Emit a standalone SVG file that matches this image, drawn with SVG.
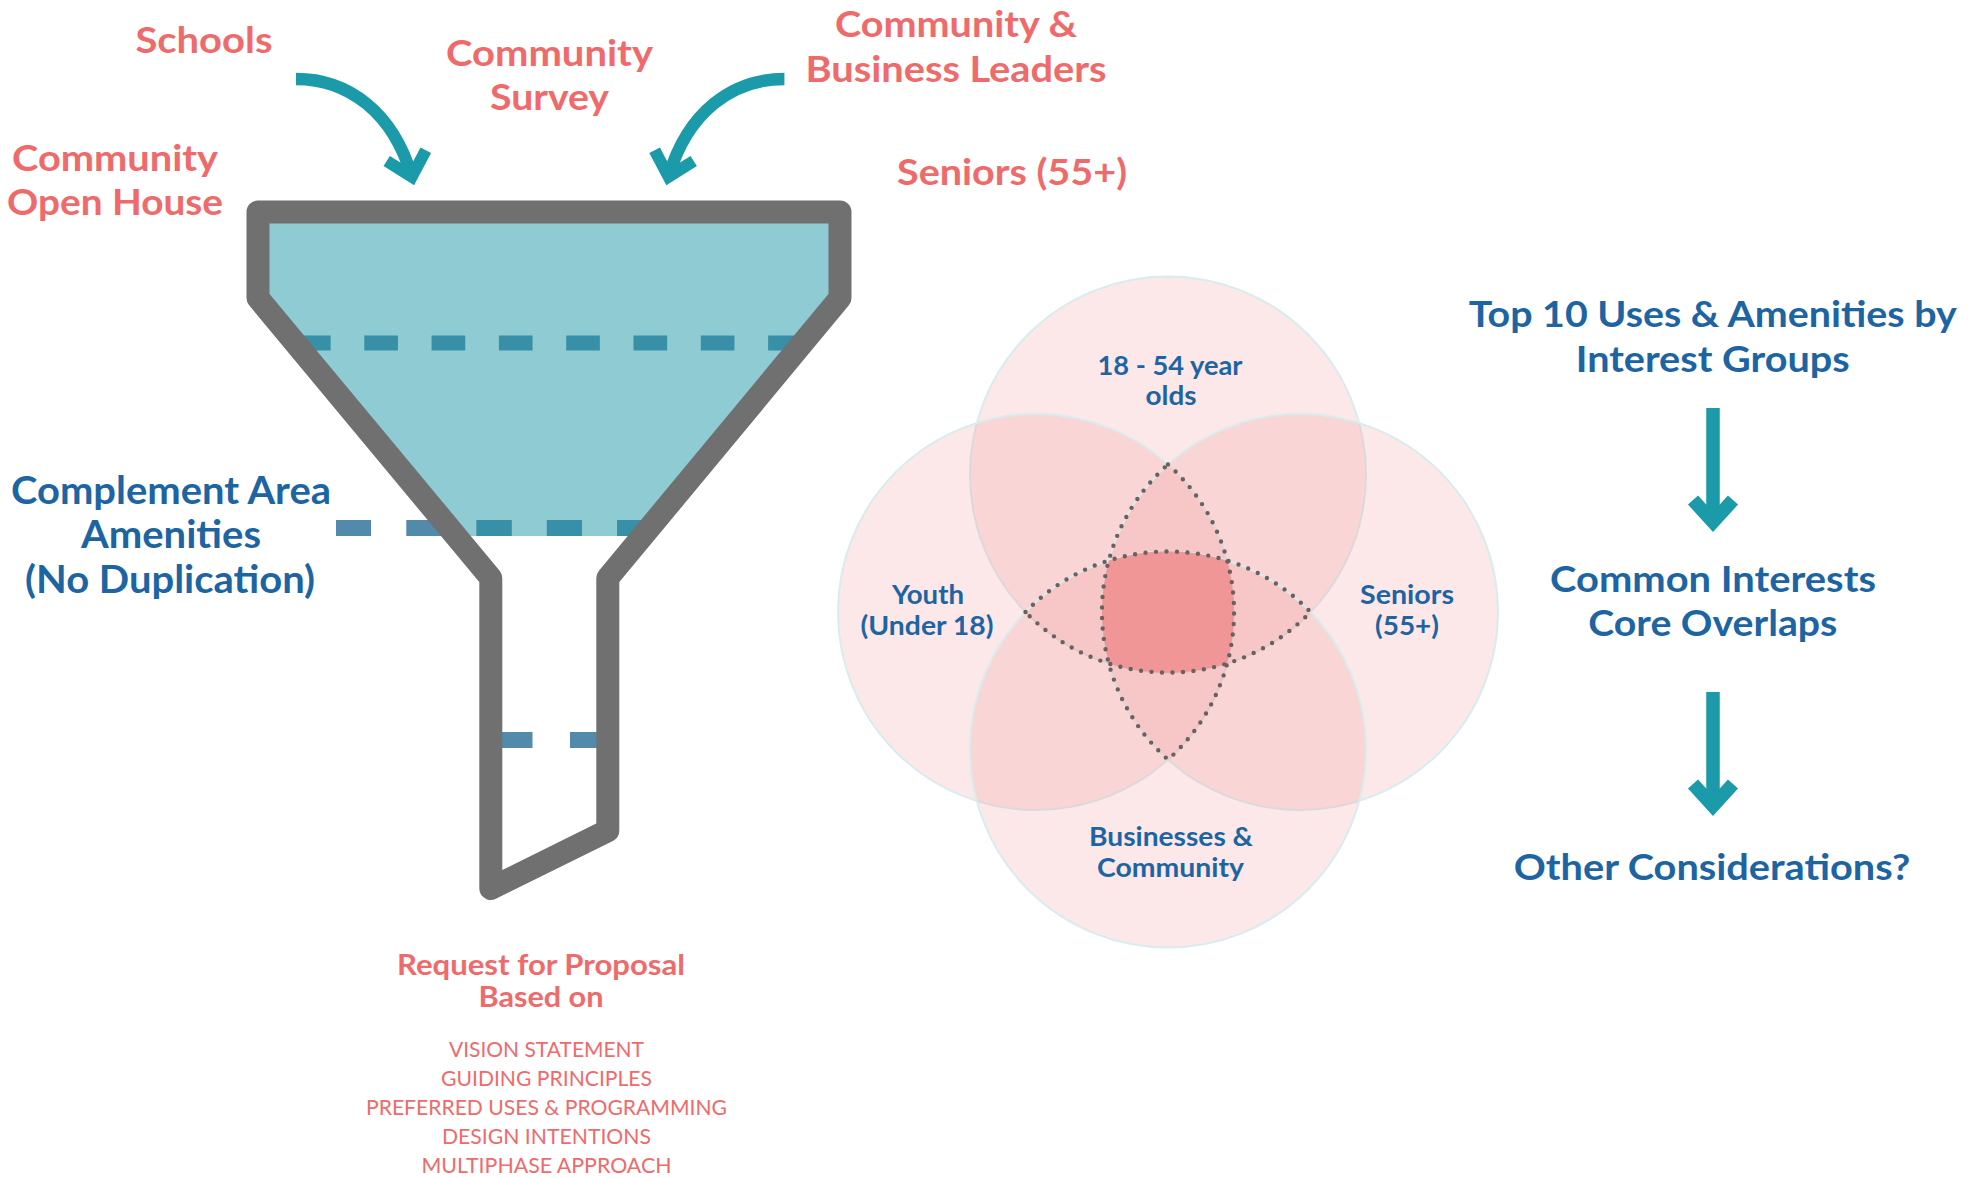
<svg xmlns="http://www.w3.org/2000/svg" width="1979" height="1178" viewBox="0 0 1979 1178">
<style>
text{font-family:Lato,"Liberation Sans",sans-serif;font-weight:700;text-anchor:middle}
.red{fill:#ee6a6b}
.blue{fill:#1d64a2}
.big{font-size:37px}
.bigb{font-size:39px}
.venn{font-size:27px}
.list{font-size:22px;font-weight:400}
.sub{font-size:29px}
.circ{fill:#ee8a8a;fill-opacity:0.2;stroke:#d8ecef;stroke-width:2}
.dots{fill:none;stroke:#6a6060;stroke-width:4.4;stroke-dasharray:0 10.5;stroke-linecap:round}
.arr{fill:none;stroke:#1b9aa9}
</style>
<defs>
<clipPath id="tealClip"><polygon points="258,212 840,212 840,298 641.7,536 456,536 258,298"/></clipPath>
</defs>
<rect width="1979" height="1178" fill="#ffffff"/>

<g id="funnel">
<polygon points="258,212 840,212 840,298 641.7,536 456,536 258,298" fill="#8fcbd3"/>
<line x1="297" y1="343" x2="802" y2="343" stroke="#3790a8" stroke-width="15" stroke-dasharray="33.65 33.65"/>
<line x1="336" y1="528" x2="660" y2="528" stroke="#528aab" stroke-width="16" stroke-dasharray="35 35.3"/>
<line x1="336" y1="528" x2="660" y2="528" stroke="#3790a8" stroke-width="16" stroke-dasharray="35 35.3" clip-path="url(#tealClip)"/>
<line x1="497" y1="740" x2="606" y2="740" stroke="#528aab" stroke-width="16" stroke-dasharray="35.5 37.5"/>
<path d="M258,212 L840,212 L840,298 L607.8,578 L607.8,830.6 L490.8,888.5 L490.8,578 L258,298 Z" fill="none" stroke="#707070" stroke-width="23" stroke-linejoin="round"/>
</g>

<g id="schools"><text class="big red" x="204" y="53" textLength="137" lengthAdjust="spacingAndGlyphs">Schools</text></g>
<g id="community-survey">
<text class="big red" x="549.5" y="66" textLength="207" lengthAdjust="spacingAndGlyphs">Community</text>
<text class="big red" x="549.5" y="110" textLength="119" lengthAdjust="spacingAndGlyphs">Survey</text>
</g>
<g id="community-open-house">
<text class="big red" x="115" y="171" textLength="206" lengthAdjust="spacingAndGlyphs">Community</text>
<text class="big red" x="115" y="215" textLength="216" lengthAdjust="spacingAndGlyphs">Open House</text>
</g>
<g id="community-business-leaders">
<text class="big red" x="956" y="37" textLength="242" lengthAdjust="spacingAndGlyphs">Community &amp;</text>
<text class="big red" x="956" y="82" textLength="301" lengthAdjust="spacingAndGlyphs">Business Leaders</text>
</g>
<g id="seniors-top"><text class="big red" x="1012" y="185" textLength="230" lengthAdjust="spacingAndGlyphs">Seniors (55+)</text></g>
<g id="complement">
<text class="bigb blue" x="171" y="504" textLength="320" lengthAdjust="spacingAndGlyphs">Complement Area</text>
<text class="bigb blue" x="171" y="548" textLength="180" lengthAdjust="spacingAndGlyphs">Amenities</text>
<text class="bigb blue" x="170" y="593" textLength="290" lengthAdjust="spacingAndGlyphs">(No Duplication)</text>
</g>
<g id="rfp">
<text class="sub red" x="541" y="975" textLength="288" lengthAdjust="spacingAndGlyphs">Request for Proposal</text>
<text class="sub red" x="541" y="1007" textLength="125" lengthAdjust="spacingAndGlyphs">Based on</text>
<text class="list red" x="546.5" y="1057" textLength="195" lengthAdjust="spacingAndGlyphs">VISION STATEMENT</text>
<text class="list red" x="546.5" y="1086" textLength="211" lengthAdjust="spacingAndGlyphs">GUIDING PRINCIPLES</text>
<text class="list red" x="546.5" y="1115" textLength="361" lengthAdjust="spacingAndGlyphs">PREFERRED USES &amp; PROGRAMMING</text>
<text class="list red" x="546.5" y="1144" textLength="209" lengthAdjust="spacingAndGlyphs">DESIGN INTENTIONS</text>
<text class="list red" x="546.5" y="1173" textLength="250" lengthAdjust="spacingAndGlyphs">MULTIPHASE APPROACH</text>
</g>

<g id="venn">
<circle class="circ" cx="1168" cy="474.5" r="198"/>
<circle class="circ" cx="1036" cy="612" r="198"/>
<circle class="circ" cx="1300" cy="612" r="198"/>
<circle class="circ" cx="1168" cy="749.5" r="198"/>
<path id="core" d="M1108.8,560.6 A198,198 0 0 1 1227.2,560.6 A198,198 0 0 1 1227.2,663.4 A198,198 0 0 1 1108.8,663.4 A198,198 0 0 1 1108.8,560.6 Z" fill="#f09696"/>
<path class="dots" d="M1168,464.4 A198,198 0 0 1 1168,759.6 A198,198 0 0 1 1168,464.4 Z"/>
<path class="dots" d="M1025.5,612 A198,198 0 0 1 1310.5,612 A198,198 0 0 1 1025.5,612 Z"/>
</g>
<g id="venn-adults">
<text class="venn blue" x="1170" y="375" textLength="145" lengthAdjust="spacingAndGlyphs">18 - 54 year</text>
<text class="venn blue" x="1171" y="405" textLength="51" lengthAdjust="spacingAndGlyphs">olds</text>
</g>
<g id="venn-youth">
<text class="venn blue" x="928" y="604" textLength="72" lengthAdjust="spacingAndGlyphs">Youth</text>
<text class="venn blue" x="927" y="635" textLength="133" lengthAdjust="spacingAndGlyphs">(Under 18)</text>
</g>
<g id="venn-seniors">
<text class="venn blue" x="1407" y="604" textLength="94" lengthAdjust="spacingAndGlyphs">Seniors</text>
<text class="venn blue" x="1407" y="635" textLength="64" lengthAdjust="spacingAndGlyphs">(55+)</text>
</g>
<g id="venn-business">
<text class="venn blue" x="1171" y="846" textLength="164" lengthAdjust="spacingAndGlyphs">Businesses &amp;</text>
<text class="venn blue" x="1170.5" y="877" textLength="147" lengthAdjust="spacingAndGlyphs">Community</text>
</g>

<g id="top10"><text class="big blue" x="1712.7" y="327" textLength="488" lengthAdjust="spacingAndGlyphs">Top 10 Uses &amp; Amenities by</text>
<text class="big blue" x="1712.7" y="372" textLength="274" lengthAdjust="spacingAndGlyphs">Interest Groups</text></g>
<g id="common"><text class="big blue" x="1713" y="591.6" textLength="326" lengthAdjust="spacingAndGlyphs">Common Interests</text>
<text class="big blue" x="1712.8" y="636" textLength="249" lengthAdjust="spacingAndGlyphs">Core Overlaps</text></g>
<g id="other"><text class="big blue" x="1712" y="880" textLength="396.5" lengthAdjust="spacingAndGlyphs">Other Considerations?</text></g>

<g id="connectors">
<path class="arr" d="M296,79 C348,79 393,112 411.8,176.7" stroke-width="12.3"/>
<path class="arr" d="M386.7,161 L411.8,176.7 L425.8,150.3" stroke-width="12" stroke-linejoin="miter"/>
<g transform="translate(1080.4,0) scale(-1,1)">
<path class="arr" d="M296,79 C348,79 393,112 411.8,176.7" stroke-width="12.3"/>
<path class="arr" d="M386.7,161 L411.8,176.7 L425.8,150.3" stroke-width="12" stroke-linejoin="miter"/>
</g>
<path class="arr" d="M1713,408 L1713,520" stroke-width="13.5"/>
<path class="arr" d="M1693,500 L1713,521.9 L1733,500" stroke-width="13.6" stroke-linejoin="miter"/>
<path class="arr" d="M1713,692 L1713,804" stroke-width="13.5"/>
<path class="arr" d="M1693,784 L1713,805.9 L1733,784" stroke-width="13.6" stroke-linejoin="miter"/>
</g>
</svg>
